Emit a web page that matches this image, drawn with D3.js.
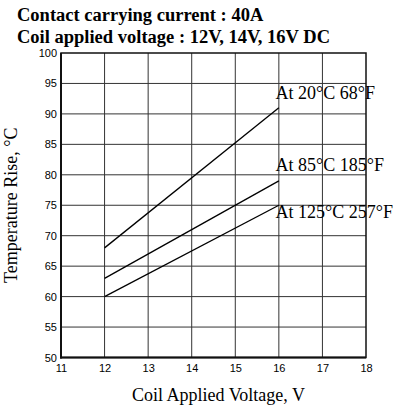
<!DOCTYPE html>
<html><head><meta charset="utf-8">
<script src="https://cdn.jsdelivr.net/npm/d3@7"></script>
<style>body{margin:0;background:#fff}svg{display:block}</style>
</head><body>
<svg id="c" width="412" height="407"></svg>
<script>
const titleLines = ["Contact carrying current : 40A", "Coil applied voltage : 12V, 14V, 16V DC"];
const xTicks = [11, 12, 13, 14, 15, 16, 17, 18];
const yTicks = [50, 55, 60, 65, 70, 75, 80, 85, 90, 95, 100];
const seriesNames = ["At 20°C 68°F", "At 85°C 185°F", "At 125°C 257°F"];
const voltages = [12, 16];
const rise20 = [68, 91];
const rise85 = [63, 79];
const rise125 = [60, 75];
const xTitle = "Coil Applied Voltage, V";
const yTitle = "Temperature Rise, °C";

const svg = d3.select("#c");
const L = 61, R = 366, T = 53, B = 357.5;
const x = d3.scaleLinear().domain([11, 18]).range([L, R]);
const y = d3.scaleLinear().domain([50, 100]).range([B, T]);

svg.selectAll("text.title").data(titleLines).join("text")
  .attr("x", 17).attr("y", (d, i) => 20.5 + i * 22)
  .attr("font-family", "Liberation Serif, Times New Roman, serif")
  .attr("font-weight", "bold").attr("font-size", 18.5).attr("fill", "#000")
  .text(d => d);

// grid
svg.append("g").selectAll("line").data(xTicks.slice(1, -1)).join("line")
  .attr("x1", d => x(d)).attr("x2", d => x(d)).attr("y1", T).attr("y2", B)
  .attr("stroke", "#333").attr("stroke-width", 1);
svg.append("g").selectAll("line").data(yTicks.slice(1, -1)).join("line")
  .attr("y1", d => y(d)).attr("y2", d => y(d)).attr("x1", L).attr("x2", R)
  .attr("stroke", "#333").attr("stroke-width", 1);

svg.append("rect").attr("x", L).attr("y", T).attr("width", R - L).attr("height", B - T)
  .attr("fill", "none").attr("stroke", "#111").attr("stroke-width", 1.5);
svg.append("line").attr("x1", L).attr("x2", L).attr("y1", T).attr("y2", B + 1).attr("stroke", "#111").attr("stroke-width", 2);
svg.append("line").attr("x1", L - 1).attr("x2", R).attr("y1", B).attr("y2", B).attr("stroke", "#111").attr("stroke-width", 2);

// axes labels
const yAxis = d3.axisLeft(y).tickValues(yTicks).tickFormat(d3.format("d")).tickSize(0).tickPadding(4);
const gy = svg.append("g").attr("transform", `translate(${L},0)`).call(yAxis);
gy.select(".domain").remove();
gy.selectAll("text").attr("font-family", "Liberation Sans, Arial, sans-serif").attr("font-size", 11).attr("fill", "#000");

const xAxis = d3.axisBottom(x).tickValues(xTicks).tickFormat(d3.format("d")).tickSize(0).tickPadding(7);
const gx = svg.append("g").attr("transform", `translate(0,${B})`).call(xAxis);
gx.select(".domain").remove();
gx.selectAll("text").attr("font-family", "Liberation Sans, Arial, sans-serif").attr("font-size", 11).attr("fill", "#000");

// series
const series = [rise20, rise85, rise125];
const line = d3.line().x((d, i) => x(voltages[i])).y(d => y(d));
svg.append("g").selectAll("path").data(series).join("path")
  .attr("d", d => line(d)).attr("fill", "none").attr("stroke", "#000").attr("stroke-width", 1.3);

const labelY = [99, 170.5, 218];
svg.append("g").selectAll("text").data(seriesNames).join("text")
  .attr("x", 275.5).attr("y", (d, i) => labelY[i])
  .attr("font-family", "Liberation Serif, Times New Roman, serif").attr("font-size", 18).attr("fill", "#000")
  .text(d => d);

svg.append("text").attr("x", (L + R) / 2 + 5).attr("y", 401).attr("text-anchor", "middle")
  .attr("font-family", "Liberation Serif, Times New Roman, serif").attr("font-size", 18).text(xTitle);
svg.append("text").attr("transform", `translate(17,${(T + B) / 2}) rotate(-90)`).attr("text-anchor", "middle")
  .attr("font-family", "Liberation Serif, Times New Roman, serif").attr("font-size", 18).text(yTitle);
</script>
</body></html>
